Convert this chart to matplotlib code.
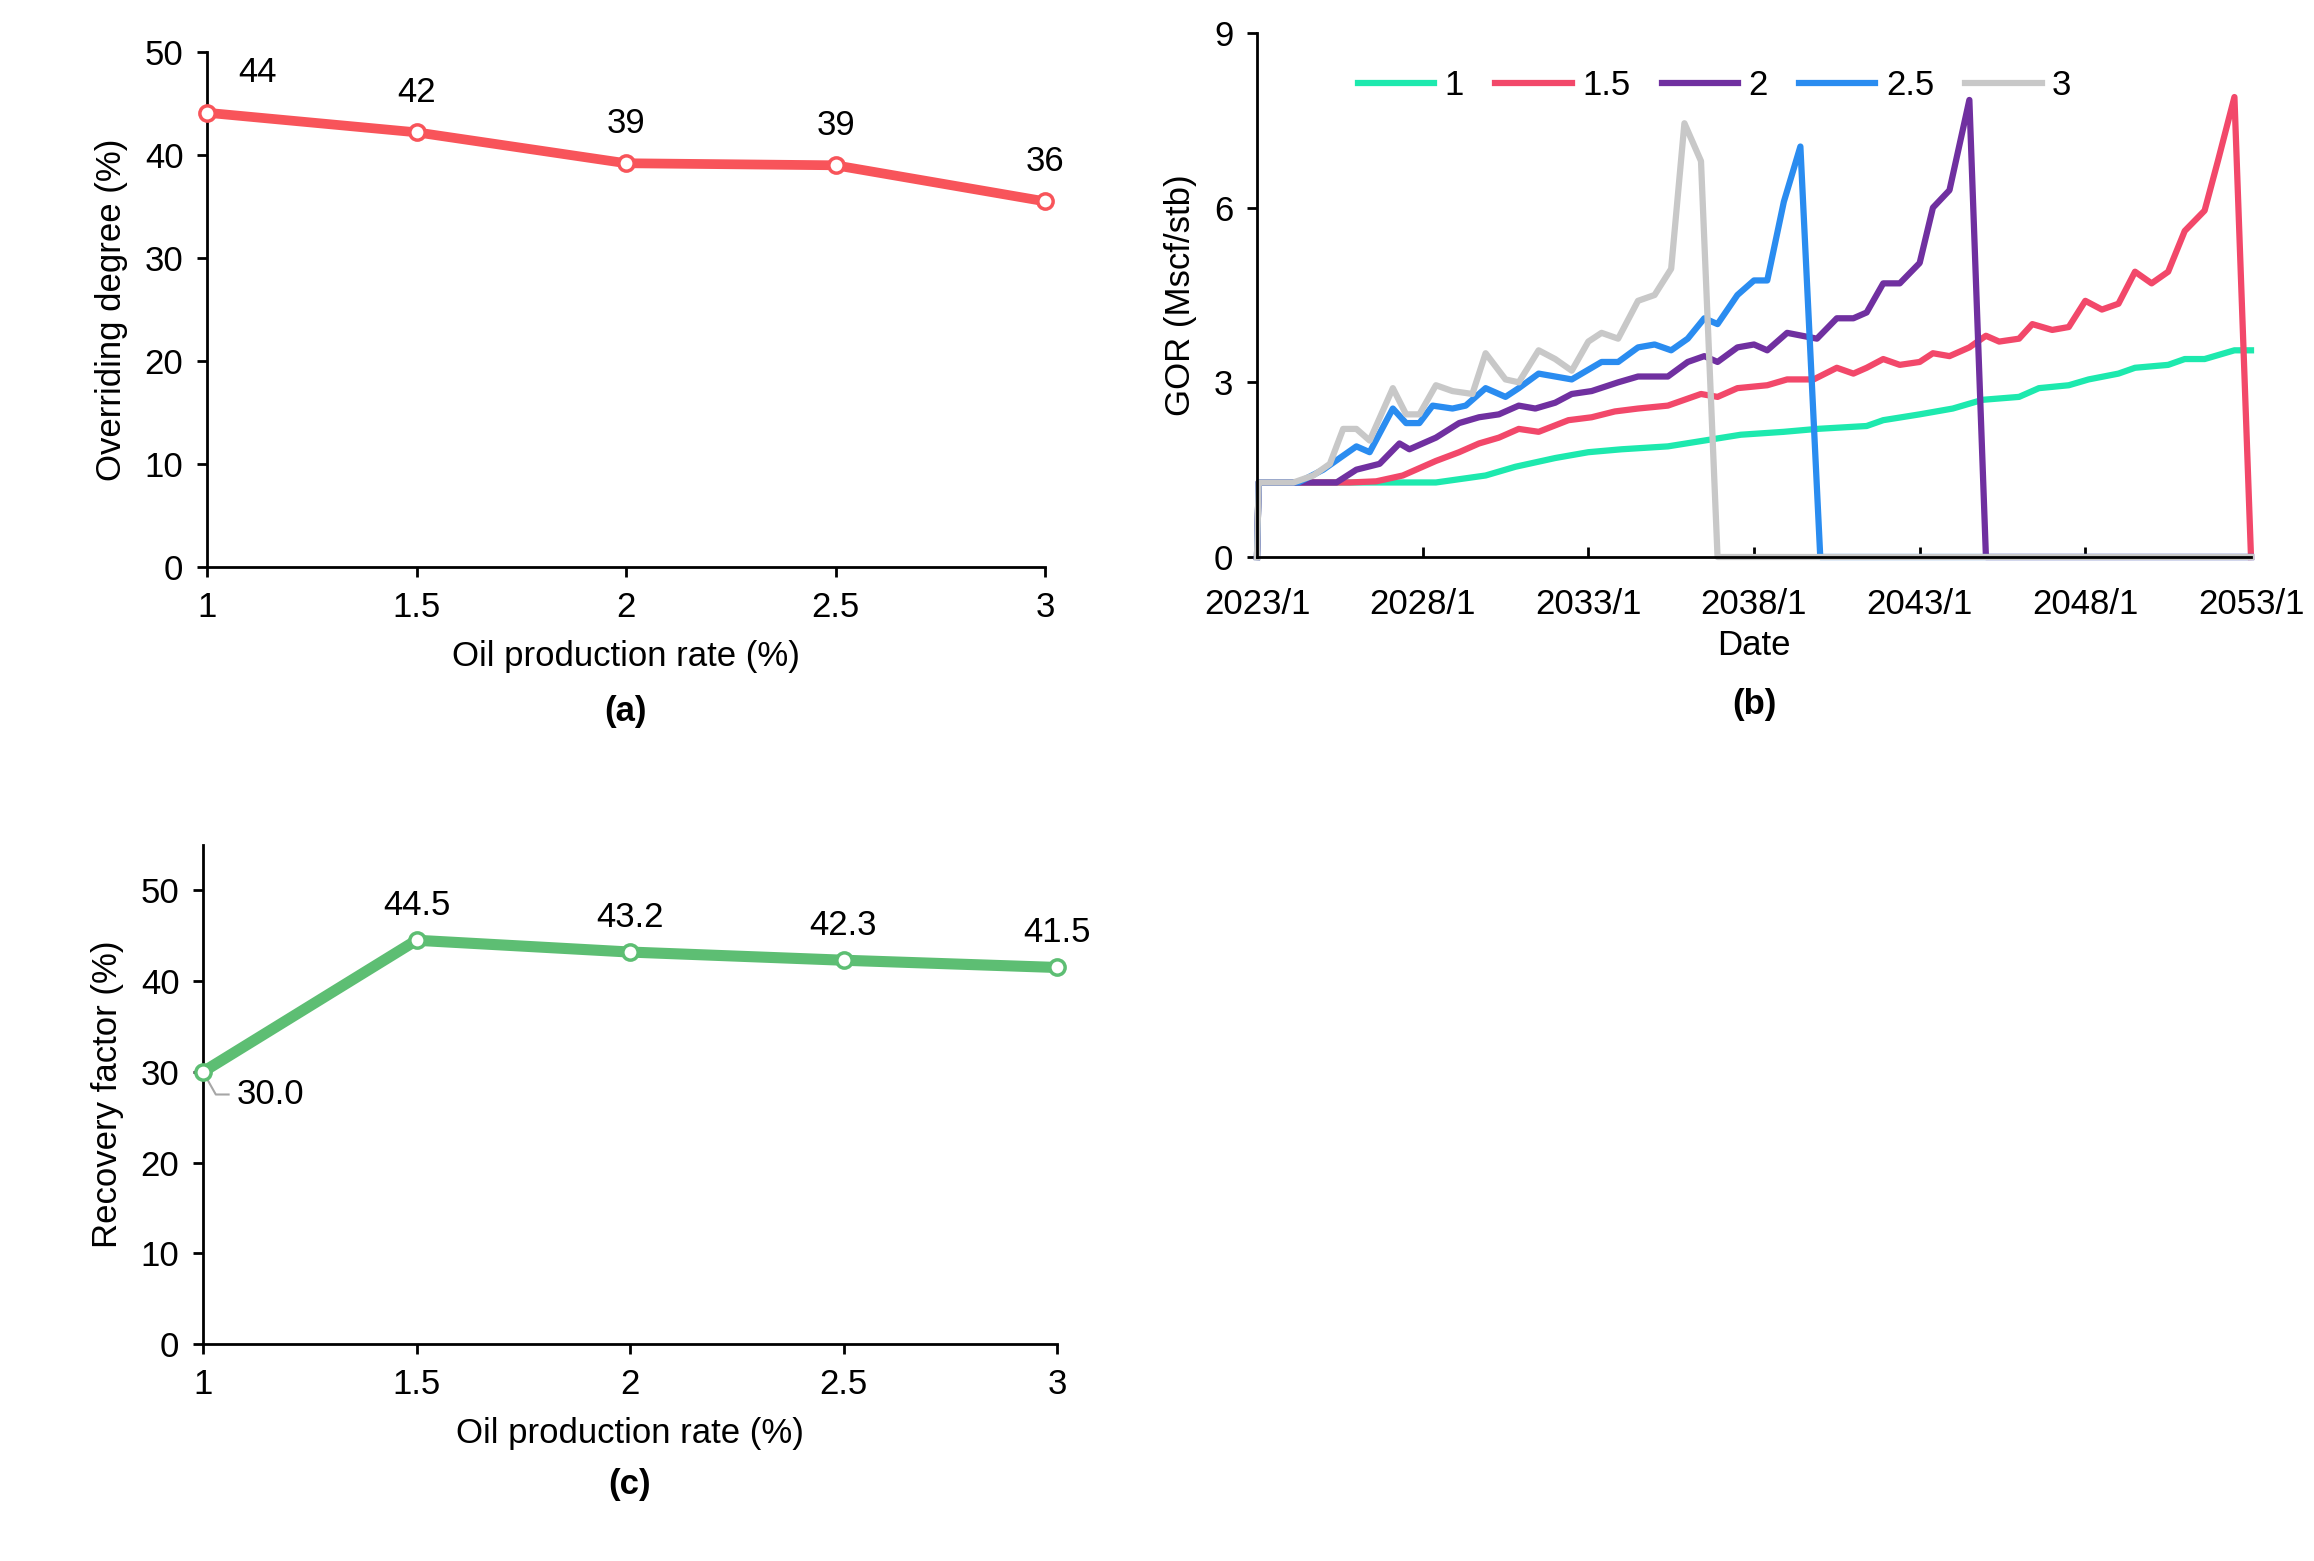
import numpy as np
import matplotlib.pyplot as plt

plt.rcParams['font.family'] = ['Liberation Sans', 'DejaVu Sans']

# (a) overriding degree
rate = [1, 1.5, 2, 2.5, 3]
overriding = [44.1, 42.2, 39.2, 39.0, 35.5]
overriding_lbl = ["44", "42", "39", "39", "36"]

# (c) recovery factor
recovery = [30.0, 44.5, 43.2, 42.3, 41.5]
recovery_lbl = ["30.0", "44.5", "43.2", "42.3", "41.5"]

# (b) GOR vs date (decimal year)
g1_t = [2023, 2023.05, 2025.8, 2027.9, 2028.4, 2029.9, 2030.8, 2032, 2033, 2034, 2035.4, 2036.5, 2037.6,
        2038.9, 2039.9, 2041.4, 2041.9, 2043, 2044, 2044.9, 2046, 2046.6, 2047.5, 2048.1, 2049, 2049.5,
        2050.5, 2051, 2051.6, 2052.5, 2053]
g1_v = [0, 1.28, 1.28, 1.28, 1.28, 1.4, 1.55, 1.7, 1.8, 1.85, 1.9, 2.0, 2.1,
        2.15, 2.2, 2.25, 2.35, 2.45, 2.55, 2.7, 2.75, 2.9, 2.95, 3.05, 3.15, 3.25,
        3.3, 3.4, 3.4, 3.55, 3.55]
g15_t = [2023, 2023.05, 2025.8, 2026.6, 2027.4, 2028.4, 2029.1, 2029.7, 2030.3, 2030.9, 2031.5, 2032.4,
         2033.1, 2033.8, 2034.5, 2035.4, 2036.4, 2036.9, 2037.5, 2038.4, 2039, 2039.8, 2040.5, 2041,
         2041.4, 2041.9, 2042.4, 2043, 2043.4, 2043.9, 2044.5, 2045, 2045.4, 2046, 2046.4, 2047, 2047.5,
         2048, 2048.5, 2049, 2049.5, 2050, 2050.5, 2051, 2051.6, 2052, 2052.5, 2053]
g15_v = [0, 1.28, 1.28, 1.3, 1.4, 1.65, 1.8, 1.95, 2.05, 2.2, 2.15, 2.35,
         2.4, 2.5, 2.55, 2.6, 2.8, 2.75, 2.9, 2.95, 3.05, 3.05, 3.25, 3.15,
         3.25, 3.4, 3.3, 3.35, 3.5, 3.45, 3.6, 3.8, 3.7, 3.75, 4.0, 3.9, 3.95,
         4.4, 4.25, 4.35, 4.9, 4.7, 4.9, 5.6, 5.95, 6.8, 7.9, 0]
g2_t = [2023, 2023.05, 2025.4, 2026, 2026.7, 2027.3, 2027.6, 2028.4, 2029.1, 2029.7, 2030.3, 2030.9,
        2031.4, 2032, 2032.5, 2033.1, 2033.9, 2034.5, 2035.4, 2036, 2036.5, 2036.9, 2037.5, 2038,
        2038.4, 2039, 2039.9, 2040.5, 2041, 2041.4, 2041.9, 2042.4, 2043, 2043.4, 2043.9, 2044.5,
        2045, 2053]
g2_v = [0, 1.28, 1.28, 1.5, 1.6, 1.95, 1.85, 2.05, 2.3, 2.4, 2.45, 2.6,
        2.55, 2.65, 2.8, 2.85, 3.0, 3.1, 3.1, 3.35, 3.45, 3.35, 3.6, 3.65,
        3.55, 3.85, 3.75, 4.1, 4.1, 4.2, 4.7, 4.7, 5.05, 6.0, 6.3, 7.85,
        0, 0]
g25_t = [2023, 2023.05, 2024.25, 2025, 2026, 2026.4, 2027.1, 2027.5, 2027.9, 2028.3, 2028.9, 2029.3,
         2029.9, 2030.5, 2030.9, 2031.5, 2032.5, 2033.4, 2033.9, 2034.5, 2035, 2035.5, 2036, 2036.5,
         2036.9, 2037.5, 2038, 2038.4, 2038.9, 2039.4, 2040, 2053]
g25_v = [0, 1.28, 1.28, 1.5, 1.9, 1.8, 2.55, 2.3, 2.3, 2.6, 2.55, 2.6,
         2.9, 2.75, 2.9, 3.15, 3.05, 3.35, 3.35, 3.6, 3.65, 3.55, 3.75, 4.1,
         4.0, 4.5, 4.75, 4.75, 6.1, 7.05, 0, 0]
g3_t = [2023, 2023.05, 2024.1, 2024.7, 2025.2, 2025.6, 2026, 2026.4, 2027.1, 2027.5, 2027.9, 2028.4,
        2028.9, 2029.5, 2029.9, 2030.5, 2030.9, 2031.5, 2032, 2032.5, 2033, 2033.4, 2033.9, 2034.5,
        2035, 2035.5, 2035.9, 2036.4, 2036.9, 2053]
g3_v = [0, 1.28, 1.28, 1.4, 1.6, 2.2, 2.2, 2.0, 2.9, 2.45, 2.45, 2.95,
        2.85, 2.8, 3.5, 3.05, 3.0, 3.55, 3.4, 3.2, 3.7, 3.85, 3.75, 4.4,
        4.5, 4.95, 7.45, 6.8, 0, 0]

FS = 25
fig = plt.figure(figsize=(23.14, 15.61), dpi=100)
W, H = 2314, 1561

def ax_at(x0, y0, x1, y1):
    return fig.add_axes([x0 / W, 1 - y1 / H, (x1 - x0) / W, (y1 - y0) / H])

def style(ax):
    for s in ['top', 'right']:
        ax.spines[s].set_visible(False)
    for s in ['left', 'bottom']:
        ax.spines[s].set_linewidth(2)
    ax.tick_params(labelsize=FS, width=2, length=7, pad=10)

# (a)
ax = ax_at(207, 52, 1045, 567)
style(ax)
ax.plot(rate, overriding, color='#F8545A', lw=7, marker='o', ms=11, mfc='white', mew=2.5, zorder=3, clip_on=False)
for x, y, t in zip(rate, overriding, overriding_lbl):
    dx = 0.12 if x == 1 else 0
    ax.text(x + dx, y + 2.3, t, ha='center', va='bottom', fontsize=FS)
ax.set_xlim(1, 3)
ax.set_ylim(0, 50)
ax.set_xticks(rate, ["1", "1.5", "2", "2.5", "3"])
ax.set_yticks(range(0, 51, 10))
ax.set_xlabel("Oil production rate (%)", fontsize=FS, labelpad=12)
ax.set_ylabel("Overriding degree (%)", fontsize=FS, labelpad=12)
ax.text(0.5, -0.3, "(a)", transform=ax.transAxes, ha='center', fontsize=FS, fontweight='bold')

# (b)
ax = ax_at(1257, 33, 2251, 557)
style(ax)
series = [(g1_t, g1_v, '#1DE9AE', "1"), (g15_t, g15_v, '#F2486A', "1.5"),
          (g2_t, g2_v, '#7030A0', "2"), (g25_t, g25_v, '#2A8CF0', "2.5"),
          (g3_t, g3_v, '#C8C8C8', "3")]
for t, v, c, lab in series:
    ax.plot(t, v, color=c, lw=4.5, label=lab, clip_on=False)
ax.set_xlim(2023, 2053)
ax.set_ylim(0, 9)
ticks = list(range(2023, 2054, 5))
ax.set_xticks(ticks, [f"{y}/1" for y in ticks])
ax.set_yticks([0, 3, 6, 9])
ax.tick_params(axis='x', direction='in', pad=22)
ax.set_xlabel("Date", fontsize=FS, labelpad=6)
ax.set_ylabel("GOR (Mscf/stb)", fontsize=FS, labelpad=12)
ax.legend(loc='upper left', bbox_to_anchor=(0.07, 0.99), ncol=5, frameon=False, fontsize=FS,
          handlelength=2.2, handletextpad=0.3, columnspacing=0.9)
ax.text(0.5, -0.3, "(b)", transform=ax.transAxes, ha='center', fontsize=FS, fontweight='bold')

# (c)
ax = ax_at(203, 845, 1057, 1344)
style(ax)
ax.plot(rate, recovery, color='#5DBE73', lw=8, marker='o', ms=11, mfc='white', mew=2.5, zorder=3, clip_on=False)
for x, y, t in zip(rate, recovery, recovery_lbl):
    if x == 1:
        ax.plot([x, x + 0.03, x + 0.06], [y, y - 2.5, y - 2.5], color='#A6A6A6', lw=1.5)
        ax.text(x + 0.08, y - 2.5, t, ha='left', va='center', fontsize=FS)
    else:
        ax.text(x, y + 2.0, t, ha='center', va='bottom', fontsize=FS)
ax.set_xlim(1, 3)
ax.set_ylim(0, 55)
ax.set_xticks(rate, ["1", "1.5", "2", "2.5", "3"])
ax.set_yticks(range(0, 51, 10))
ax.set_xlabel("Oil production rate (%)", fontsize=FS, labelpad=12)
ax.set_ylabel("Recovery factor (%)", fontsize=FS, labelpad=12)
ax.text(0.5, -0.3, "(c)", transform=ax.transAxes, ha='center', fontsize=FS, fontweight='bold')

fig.savefig("out.png", dpi=100, facecolor='white')
